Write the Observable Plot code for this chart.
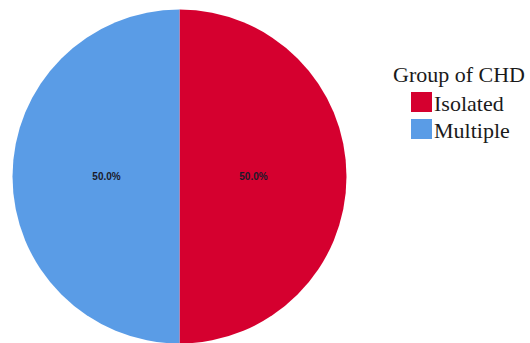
<!DOCTYPE html>
<html>
<head>
<meta charset="utf-8">
<script src="https://cdn.jsdelivr.net/npm/d3@7"></script>
<script src="https://cdn.jsdelivr.net/npm/@observablehq/plot@0.6"></script>
<style>
  html, body { margin: 0; padding: 0; background: #fff; }
  #wrap { position: relative; width: 530px; height: 343px; overflow: hidden; }
</style>
</head>
<body>
<div id="wrap">
  <div id="chart"></div>
</div>
<script>
const legendTitle = "Group of CHD";
const categories = ["Isolated", "Multiple"];
const values = [50.0, 50.0];
const colors = ["#D5002F", "#5A9CE6"];

const total = d3.sum(values);
const pie = d3.pie().sort(null).value(d => d.value);
const arcs = pie(categories.map((c, i) => ({category: c, value: values[i], color: colors[i]})));

const labelR = 0.44;
const labels = arcs.map(a => {
  const mid = (a.startAngle + a.endAngle) / 2;
  return {
    x: labelR * Math.sin(mid),
    y: labelR * Math.cos(mid),
    text: (a.data.value / total * 100).toFixed(1) + "%"
  };
});

function pieMark(index, scales, values, dimensions) {
  const sx = scales && typeof scales.x === "function" ? scales.x : d3.scaleLinear([-1, 1], [12.5, 346.5]);
  const sy = scales && typeof scales.y === "function" ? scales.y : d3.scaleLinear([-1, 1], [343.5, 9.5]);
  const cx = sx(0), cy = sy(0);
  const r = sx(1) - sx(0);
  const arcGen = d3.arc().innerRadius(0).outerRadius(r);
  const g = d3.create("svg:g").attr("transform", `translate(${cx},${cy})`);
  g.selectAll("path").data(arcs).join("path")
    .attr("d", arcGen)
    .attr("fill", d => d.data.color)
    .attr("stroke", "none");
  return g.node();
}

const serif = "'Liberation Serif', 'Times New Roman', serif";
function legendText(g, x, y, s) {
  return g.append("text")
    .attr("x", x).attr("y", y)
    .attr("text-anchor", "start")
    .attr("font-family", serif)
    .style("font-family", serif)
    .attr("font-size", 22)
    .attr("fill", "#1a1a1a")
    .text(s);
}
function legendMark() {
  const g = d3.create("svg:g").attr("transform", "translate(393,82)");
  legendText(g, 0, 0, legendTitle);
  categories.forEach((c, i) => {
    const y = 10 + i * 27;
    g.append("rect").attr("x", 18).attr("y", y).attr("width", 21).attr("height", 20).attr("fill", colors[i]);
    legendText(g, 41, y + 19, c);
  });
  return g.node();
}

const chart = Plot.plot({
  width: 530,
  height: 343,
  margin: 0,
  x: {domain: [-1, 1], range: [12.5, 346.5], axis: null},
  y: {domain: [-1, 1], range: [343.5, 9.5], axis: null},
  style: {background: "transparent"},
  marks: [
    pieMark,
    Plot.text(labels, {
      x: "x", y: "y", text: "text",
      fontSize: 10, fontWeight: "bold",
      fontFamily: "Liberation Sans, Arial, sans-serif",
      fill: "#1a1a2a"
    }),
    legendMark
  ]
});
document.getElementById("chart").appendChild(chart);
</script>
</body>
</html>
